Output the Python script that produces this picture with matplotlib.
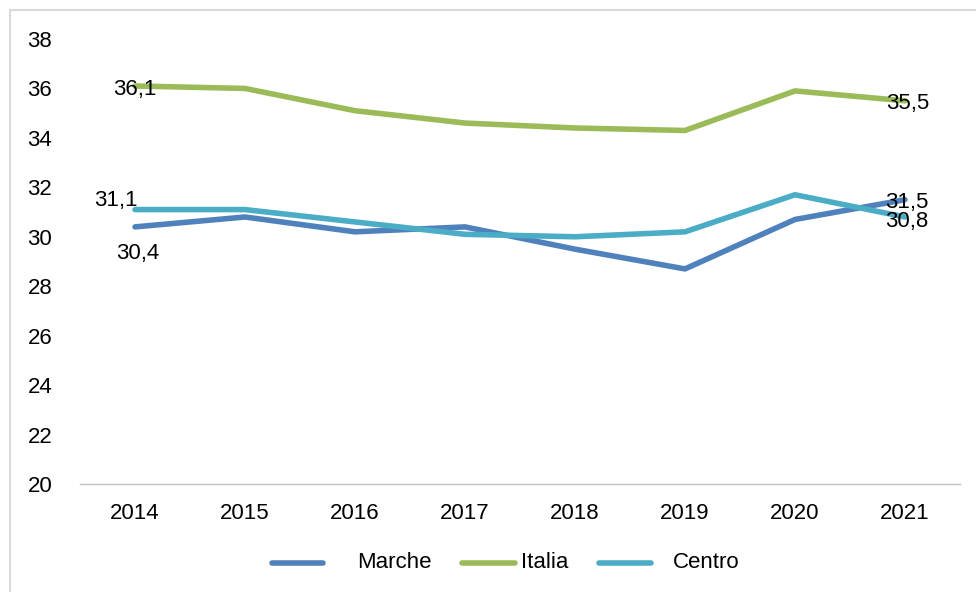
"""
Line chart - Marche / Italia / Centro, 2014-2021
"""

import matplotlib
matplotlib.use("Agg")
import matplotlib.pyplot as plt
from matplotlib.patches import Rectangle
from matplotlib.lines import Line2D

years = ["2014", "2015", "2016", "2017", "2018", "2019", "2020", "2021"]
marche = [30.4, 30.8, 30.2, 30.4, 29.5, 28.7, 30.7, 31.5]
italia = [36.1, 36.0, 35.1, 34.6, 34.4, 34.3, 35.9, 35.5]
centro = [31.1, 31.1, 30.6, 30.1, 30.0, 30.2, 31.7, 30.8]

colors = {"Marche": "#4F81BD", "Italia": "#9BBB59", "Centro": "#4BACC6"}

plt.rcParams["font.family"] = ["Liberation Sans", "DejaVu Sans"]

W, H = 976, 592
fs = 16
fig = plt.figure(figsize=(W / 100, H / 100), dpi=100)

# outer chart frame (grey border, clipped at right/bottom)
fig.patches.append(Rectangle((10 / W, -0.1), 1.1, (H - 10) / H + 0.1,
                             transform=fig.transFigure, fill=False,
                             edgecolor="#D9D9D9", linewidth=1.5))

ax = fig.add_axes([80 / W, (H - 484) / H, 880 / W, 445 / H])
x = list(range(len(years)))

for name, vals in [("Marche", marche), ("Italia", italia), ("Centro", centro)]:
    ax.plot(x, vals, color=colors[name], linewidth=4,
            solid_capstyle="round", solid_joinstyle="round", label=name)

ax.set_xlim(-0.5, len(years) - 0.5)
ax.set_ylim(20, 38)
ax.set_yticks(range(20, 39, 2))
ax.set_xticks(x)
ax.set_xticklabels(years)
ax.tick_params(axis="both", length=0, labelsize=fs, colors="black")
ax.tick_params(axis="y", pad=20)
ax.tick_params(axis="x", pad=14)

for s in ["top", "right", "left"]:
    ax.spines[s].set_visible(False)
ax.spines["bottom"].set_color("#BFBFBF")
ax.spines["bottom"].set_linewidth(1)

# data labels (first and last points)
def label(i, vals, dx, dy):
    ax.annotate(f"{vals[i]:.1f}".replace(".", ","), (i, vals[i]),
                xytext=(dx, dy), textcoords="offset points",
                ha="center", va="center", fontsize=fs)

label(0, italia, 0, -2.5)
label(0, centro, -14, 6.5)
label(0, marche, 2, -19.5)
label(7, italia, 2, -2)
label(7, marche, 1, -2)
label(7, centro, 1, -3.5)

# legend, laid out like the Excel original
leg_y = 1 - 563 / H
for name, (x0, x1, tx) in {"Marche": (272, 323, 394),
                           "Italia": (462, 515, 545),
                           "Centro": (599, 651, 706)}.items():
    fig.add_artist(Line2D([x0 / W, x1 / W], [leg_y, leg_y],
                          transform=fig.transFigure, color=colors[name],
                          linewidth=4, solid_capstyle="round"))
    fig.text(tx / W, leg_y, name, ha="center", va="center", fontsize=fs)

fig.savefig("out.png", dpi=100)
